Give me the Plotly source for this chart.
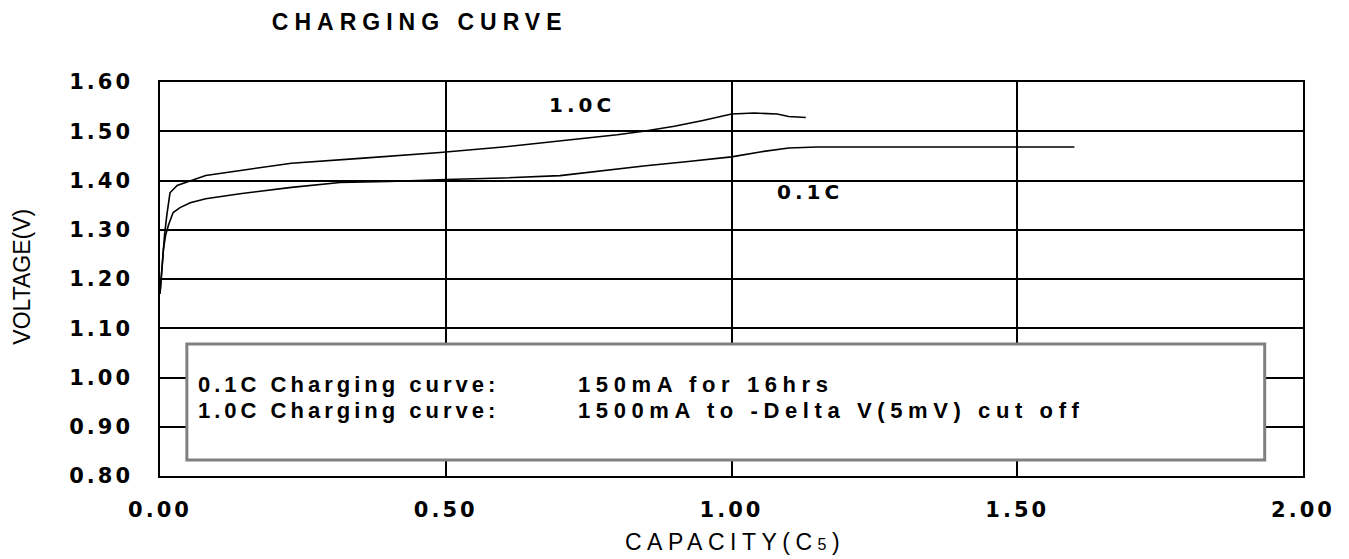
import plotly.graph_objects as go

# ---- data ----
cap_01c = [0.0, 0.003, 0.006, 0.01, 0.015, 0.023, 0.035, 0.053, 0.08, 0.14, 0.23, 0.315,
           0.40, 0.50, 0.60, 0.70, 0.77, 0.85, 0.92, 1.0, 1.05, 1.10, 1.15, 1.30, 1.45, 1.60]
volt_01c = [1.17, 1.22, 1.26, 1.29, 1.31, 1.335, 1.345, 1.355, 1.363, 1.373, 1.386, 1.396,
            1.398, 1.402, 1.405, 1.41, 1.42, 1.43, 1.438, 1.448, 1.458, 1.466, 1.468, 1.468, 1.468, 1.468]

cap_10c = [0.0, 0.004, 0.008, 0.012, 0.0175, 0.03, 0.05, 0.08, 0.15, 0.23, 0.35, 0.49,
           0.60, 0.70, 0.80, 0.846, 0.90, 0.95, 1.0, 1.04, 1.08, 1.10, 1.13]
volt_10c = [1.17, 1.23, 1.29, 1.33, 1.375, 1.39, 1.398, 1.41, 1.422, 1.435, 1.445, 1.457,
            1.468, 1.48, 1.493, 1.50, 1.51, 1.522, 1.535, 1.537, 1.535, 1.53, 1.528]

x_ticks = [0.0, 0.5, 1.0, 1.5, 2.0]
x_tick_labels = ["0.00", "0.50", "1.00", "1.50", "2.00"]
y_ticks = [0.8, 0.9, 1.0, 1.1, 1.2, 1.3, 1.4, 1.5, 1.6]
y_tick_labels = ["0.80", "0.90", "1.00", "1.10", "1.20", "1.30", "1.40", "1.50", "1.60"]

series_labels = ["0.1C", "1.0C"]
note_lines = [("0.1C Charging curve:", "150mA for 16hrs"),
              ("1.0C Charging curve:", "1500mA to -Delta V(5mV) cut off")]


def spaced(txt, px):
    return f"<span style='letter-spacing:{px}px'>{txt}</span>"


BOLD = "DejaVu Sans"
ARIAL = "Liberation Sans, Arial"

fig = go.Figure()
fig.add_trace(go.Scatter(x=cap_01c, y=volt_01c, mode="lines", name=series_labels[0],
                         line=dict(color="black", width=1.6)))
fig.add_trace(go.Scatter(x=cap_10c, y=volt_10c, mode="lines", name=series_labels[1],
                         line=dict(color="black", width=1.6)))

# note box
fig.add_shape(type="rect", xref="x", yref="y", x0=0.047, x1=1.933, y0=0.8325, y1=1.068,
              fillcolor="white", line=dict(color="#808080", width=3), layer="above")

annotations = []
note_y = [0.985, 0.932]
for (lab, desc), yy in zip(note_lines, note_y):
    annotations.append(dict(x=0.063, y=yy, xref="x", yref="y", text=spaced(lab, 4),
                            showarrow=False, xanchor="left", yanchor="middle",
                            font=dict(family=ARIAL, size=22, color="black", weight="bold")))
    annotations.append(dict(x=0.728, y=yy, xref="x", yref="y", text=spaced(desc, 5.6),
                            showarrow=False, xanchor="left", yanchor="middle",
                            font=dict(family=ARIAL, size=22, color="black", weight="bold")))

annotations.append(dict(x=0.738, y=1.554, xref="x", yref="y", text=spaced(series_labels[1], 4),
                        showarrow=False, xanchor="center", yanchor="middle",
                        font=dict(family=BOLD, size=20, color="black", weight="bold")))
annotations.append(dict(x=1.137, y=1.377, xref="x", yref="y", text=spaced(series_labels[0], 4),
                        showarrow=False, xanchor="center", yanchor="middle",
                        font=dict(family=BOLD, size=20, color="black", weight="bold")))

annotations.append(dict(x=-0.1207, y=0.506, xref="paper", yref="paper", text="VOLTAGE(V)",
                        showarrow=False, textangle=-90, xanchor="center", yanchor="middle",
                        font=dict(family=ARIAL, size=23, color="black")))
annotations.append(dict(x=0.503, y=-0.1675, xref="paper", yref="paper",
                        text=spaced("CAPACITY(C<span style='font-size:16px'>5</span>)", 5.5),
                        showarrow=False, xanchor="center", yanchor="middle",
                        font=dict(family=ARIAL, size=23, color="black")))

fig.update_layout(
    width=1341, height=551,
    margin=dict(l=152, r=46, t=74, b=83),
    paper_bgcolor="white", plot_bgcolor="white",
    showlegend=False,
    title=dict(text=spaced("CHARGING CURVE", 6), x=0.307, y=0.975,
               xanchor="center", yanchor="middle", xref="container", yref="container",
               font=dict(family=ARIAL, size=23, color="black", weight="bold")),
    annotations=annotations,
    xaxis=dict(range=[0, 2], tickvals=x_ticks, ticktext=[spaced(t, 3) for t in x_tick_labels],
               showgrid=True, gridcolor="black", gridwidth=1.5,
               showline=True, mirror=True, linecolor="black", linewidth=1.5,
               zeroline=False, ticks="", ticklabelstandoff=14,
               tickfont=dict(family=BOLD, size=21, color="black", weight="bold")),
    yaxis=dict(range=[0.8, 1.6], tickvals=y_ticks, ticktext=[spaced(t, 3) for t in y_tick_labels],
               showgrid=True, gridcolor="black", gridwidth=1.5,
               showline=True, mirror=True, linecolor="black", linewidth=1.5,
               zeroline=False, ticks="", ticklabelstandoff=21,
               tickfont=dict(family=BOLD, size=21, color="black", weight="bold")),
)

fig.write_html("out.html")
